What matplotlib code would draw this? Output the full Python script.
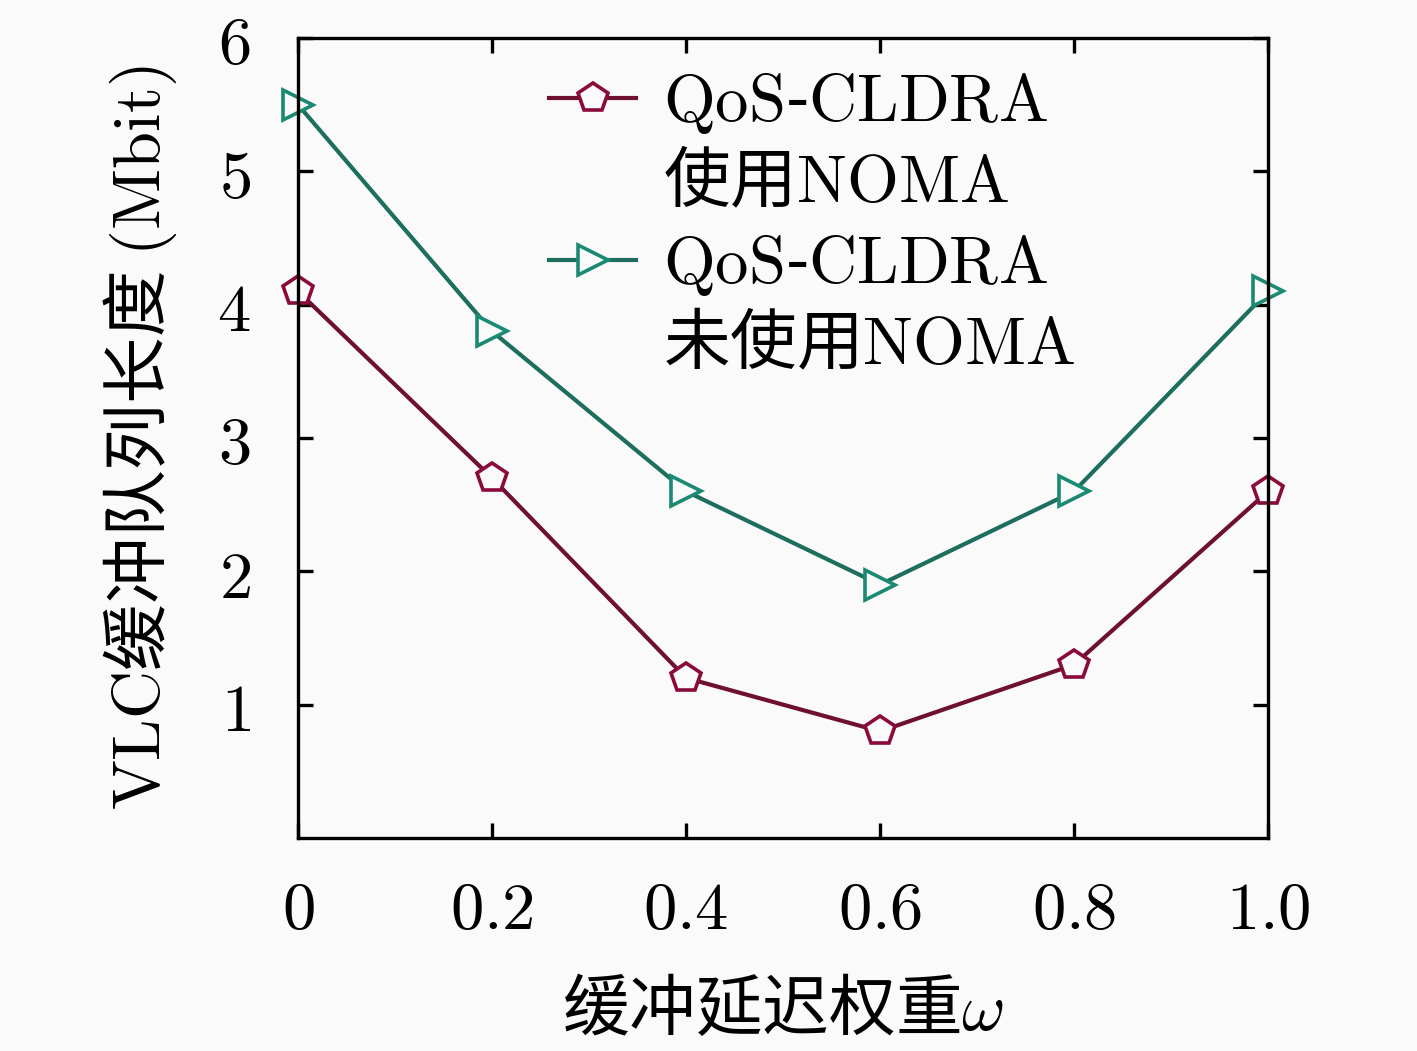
import matplotlib
matplotlib.use("Agg")
import matplotlib.pyplot as plt

plt.rcParams['font.family'] = ['Noto Sans CJK SC', 'DejaVu Serif']
plt.rcParams['mathtext.fontset'] = 'cm'

weights = [0, 0.2, 0.4, 0.6, 0.8, 1.0]
with_noma = [4.1, 2.7, 1.2, 0.8, 1.3, 2.6]
without_noma = [5.5, 3.8, 2.6, 1.9, 2.6, 4.1]
x_tick_labels = ['0', '0.2', '0.4', '0.6', '0.8', '1.0']
y_ticks = [1, 2, 3, 4, 5, 6]

bg = '#fafafa'
red = '#6e1032'
green = '#1d6e5e'

fig = plt.figure(figsize=(14.17, 10.51), dpi=100, facecolor=bg)
ax = fig.add_axes([0.2103, 0.2027, 0.6846, 0.7611], facecolor=bg)

l1, = ax.plot(weights, with_noma, color=red, lw=3, marker='p', markersize=22,
              mfc=bg, mec='#8a0a3c', mew=2.6)
l2, = ax.plot(weights, without_noma, color=green, lw=3, marker='>', markersize=22,
              mfc=bg, mec='#1a8a72', mew=2.6)
for l in (l1, l2):
    l.set_clip_on(False)

blank1, = ax.plot([], [], ' ')
blank2, = ax.plot([], [], ' ')

ax.set_xlim(0, 1)
ax.set_ylim(0, 6)
ax.set_xticks(weights)
ax.set_xticklabels(['$' + t + '$' for t in x_tick_labels])
ax.set_yticks(y_ticks)
ax.set_yticklabels(['$%d$' % v for v in y_ticks])
ax.tick_params(direction='in', length=11, width=2.4, labelsize=48,
               top=True, right=True, pad=14)
ax.tick_params(axis='x', pad=28)
ax.tick_params(axis='y', pad=34)
for s in ax.spines.values():
    s.set_linewidth(2.4)

ax.set_xlabel('缓冲延迟权重$\\omega$', fontsize=48, labelpad=24)
ax.set_ylabel('$\\mathrm{VLC}$缓冲队列长度 $(\\mathrm{Mbit})$', fontsize=48, labelpad=28)

ax.legend([l1, blank1, l2, blank2],
          ['$\\mathrm{QoS}$-$\\mathrm{CLDRA}$', '使用$\\mathrm{NOMA}$',
           '$\\mathrm{QoS}$-$\\mathrm{CLDRA}$', '未使用$\\mathrm{NOMA}$'],
          loc='upper left', bbox_to_anchor=(0.204, 1.028), frameon=False,
          fontsize=48, handlelength=1.3, handletextpad=0.4, labelspacing=0.2,
          borderpad=0.3)

fig.savefig('out.png', dpi=100, facecolor=bg)
